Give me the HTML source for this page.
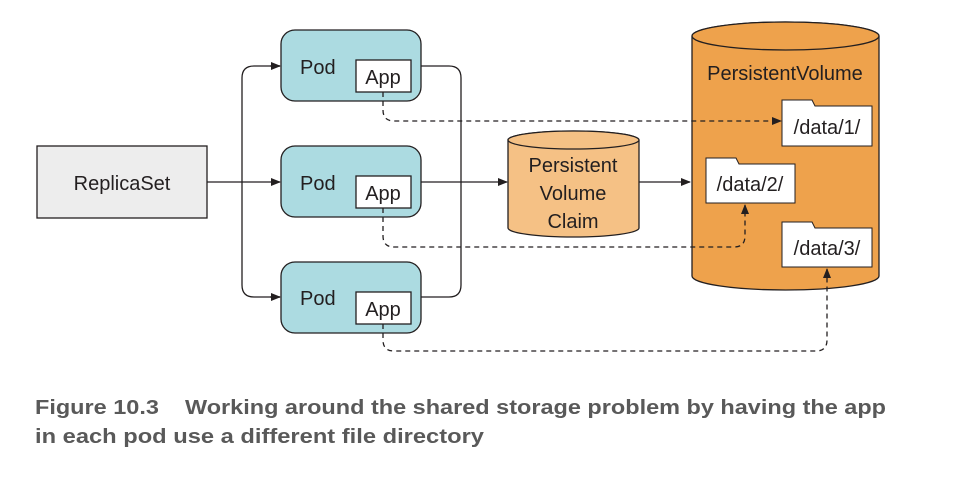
<!DOCTYPE html>
<html><head><meta charset="utf-8"><style>
html,body{margin:0;padding:0;background:#fff;}
svg{display:block;}
text{font-family:"Liberation Sans",sans-serif;fill:#231f20;white-space:pre;}
</style></head><body>
<svg width="968" height="486" viewBox="0 0 968 486" xmlns="http://www.w3.org/2000/svg" xml:space="preserve">
<defs>
<marker id="ar" markerWidth="10" markerHeight="8" refX="9" refY="4" orient="auto" markerUnits="userSpaceOnUse">
<path d="M0,0 L10,4 L0,8 Z" fill="#231f20"/></marker>
</defs>
<g stroke="#231f20" stroke-width="1.3" fill="none">
<path d="M207,182 L280,182" marker-end="url(#ar)"/>
<path d="M280,66 L254,66 Q242,66 242,78 L242,285 Q242,297 254,297 L280,297" />
<path d="M270,66 L280,66" marker-end="url(#ar)"/>
<path d="M270,297 L280,297" marker-end="url(#ar)"/>
<path d="M421,66 L449,66 Q461,66 461,78 L461,285 Q461,297 449,297 L421,297"/>
<path d="M421,182 L507,182" marker-end="url(#ar)"/>
<path d="M639,182 L690,182" marker-end="url(#ar)"/>
</g>
<rect x="37" y="146" width="170" height="72" fill="#ededed" stroke="#231f20" stroke-width="1.3"/>
<text x="122" y="190" font-size="20" text-anchor="middle">ReplicaSet</text>
<g stroke="#231f20" stroke-width="1.3">
<rect x="281" y="30" width="140" height="71" rx="14" fill="#acdbe1"/>
<rect x="281" y="146" width="140" height="71" rx="14" fill="#acdbe1"/>
<rect x="281" y="262" width="140" height="71" rx="14" fill="#acdbe1"/>
<rect x="356" y="60" width="55" height="32" fill="#fff"/>
<rect x="356" y="176" width="55" height="32" fill="#fff"/>
<rect x="356" y="292" width="55" height="32" fill="#fff"/>
</g>
<g font-size="20">
<text x="300" y="74">Pod</text><text x="300" y="190">Pod</text><text x="300" y="305">Pod</text>
<text x="383" y="84" text-anchor="middle">App</text>
<text x="383" y="200" text-anchor="middle">App</text>
<text x="383" y="316" text-anchor="middle">App</text>
</g>
<path d="M508,140 L508,228 A65.5,9 0 0 0 639,228 L639,140 A65.5,9 0 0 0 508,140 Z" fill="#f5c185" stroke="#231f20" stroke-width="1.3"/>
<ellipse cx="573.5" cy="140" rx="65.5" ry="9" fill="#f5c185" stroke="#231f20" stroke-width="1.3"/>
<g font-size="20" text-anchor="middle">
<text x="573" y="172">Persistent</text><text x="573" y="200">Volume</text><text x="573" y="228">Claim</text>
</g>
<path d="M692,36 L692,276 A93.5,14 0 0 0 879,276 L879,36 A93.5,14 0 0 0 692,36 Z" fill="#eea24c" stroke="#231f20" stroke-width="1.3"/>
<ellipse cx="785.5" cy="36" rx="93.5" ry="14" fill="#eea24c" stroke="#231f20" stroke-width="1.3"/>
<text x="785" y="80" font-size="20" text-anchor="middle">PersistentVolume</text>
<g fill="#fff" stroke="#231f20" stroke-width="1">
<path d="M782,146 L782,100 L812,100 L815,106 L872,106 L872,146 Z"/>
<path d="M706,203 L706,158 L736,158 L739,164 L795,164 L795,203 Z"/>
<path d="M782,267 L782,222 L812,222 L815,228 L872,228 L872,267 Z"/>
</g>
<g font-size="20" text-anchor="middle">
<text x="827" y="134">/data/1/</text><text x="750" y="191">/data/2/</text><text x="827" y="255">/data/3/</text>
</g>
<g stroke="#231f20" stroke-width="1.3" fill="none" stroke-dasharray="5,4">
<path d="M383,92 L383,110 Q383,121 394,121 L781,121" marker-end="url(#ar)"/>
<path d="M383,208 L383,236 Q383,247 394,247 L734,247 Q745,247 745,236 L745,205" marker-end="url(#ar)"/>
<path d="M383,324 L383,340 Q383,351 394,351 L816,351 Q827,351 827,340 L827,269" marker-end="url(#ar)"/>
</g>
<g font-size="20" font-weight="bold">
<text x="35" y="414" textLength="851" lengthAdjust="spacingAndGlyphs" style="fill:#595959">Figure 10.3    Working around the shared storage problem by having the app</text>
<text x="35" y="443" textLength="449" lengthAdjust="spacingAndGlyphs" style="fill:#595959">in each pod use a different file directory</text>
</g>
</svg>
</body></html>
